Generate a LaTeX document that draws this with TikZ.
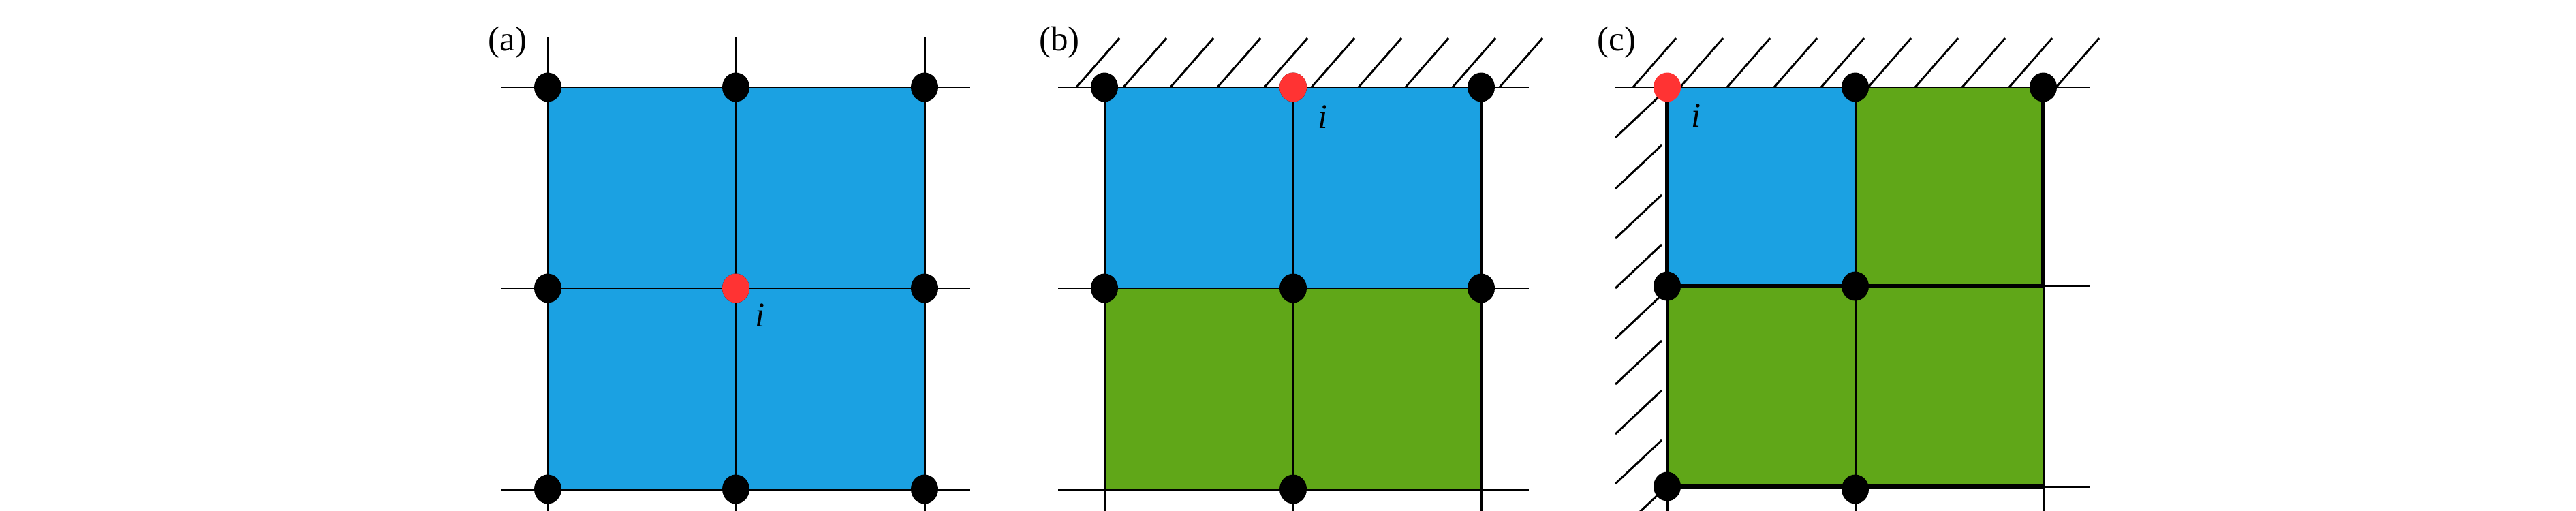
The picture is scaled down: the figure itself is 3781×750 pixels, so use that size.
\documentclass[tikz,border=0pt]{standalone}
\usepackage{fontspec}
\setmainfont{Liberation Serif}
\usetikzlibrary{shapes.geometric}
\begin{document}
\begin{tikzpicture}[x=0.02cm,y=-0.02cm,
  thin line/.style={line width=1.7pt,black},
  thick line/.style={line width=2.9pt,black},
  dot/.style={ellipse,inner sep=0pt,minimum width=0.8cm,minimum height=0.86cm,fill=black},
  rdot/.style={dot,fill=myred},
  lab/.style={font=\fontsize{29}{29}\selectfont,inner sep=0pt},
  ilab/.style={font=\fontsize{29}{29}\selectfont\itshape,inner sep=0pt},
  hatch/.style={line width=1.7pt,black}]
\definecolor{myblue}{HTML}{1BA1E2}
\definecolor{mygreen}{HTML}{60A718}
\definecolor{myred}{HTML}{FF3333}
\path[use as bounding box] (0,0) rectangle (3781,750);
% ---------- (a)
\fill[myblue] (804,128) rectangle (1357,718);
\foreach \x in {804,1080,1357} \draw[thin line] (\x,55) -- (\x,750);
\foreach \y in {128,423,718} \draw[thin line] (735,\y) -- (1424,\y);
\foreach \x/\n in {804/1,1080/2,1357/3}{
  \foreach \y/\m in {128/1,423/2,718/3}{
    \node[dot] (a\n\m) at (\x,\y) {};}}
\node[rdot] (ai) at (1080,423) {};
\node[lab] (alab) at (745,62) {(a)};
\node[ilab] (ail) at (1116,463) {i};
% ---------- (b)
\fill[myblue] (1621,128) rectangle (2174,423);
\fill[mygreen] (1621,423) rectangle (2174,718);
\foreach \x in {1621,1898,2174} \draw[thin line] (\x,128) -- (\x,750);
\foreach \y in {128,423,718} \draw[thin line] (1553,\y) -- (2244,\y);
\foreach \k in {0,...,9} \draw[hatch] (1580+69*\k,128) -- ++(63,-72);
\foreach \x/\n in {1621/1,1898/2,2174/3}{
  \foreach \y/\m in {128/1,423/2}{
    \node[dot] (b\n\m) at (\x,\y) {};}}
\node[dot] (b23) at (1898,718) {};
\node[rdot] (bi) at (1898,128) {};
\node[lab] (blab) at (1555,62) {(b)};
\node[ilab] (bil) at (1942,172) {i};
% ---------- (c)
\fill[myblue] (2447,128) rectangle (2723,420);
\fill[mygreen] (2723,128) rectangle (2999,420);
\fill[mygreen] (2447,420) rectangle (2999,714);
\draw[thin line] (2371,128) -- (3068,128);
\draw[thin line] (2999,420) -- (3068,420);
\draw[thin line] (2999,714) -- (3068,714);
\draw[thin line] (2723,128) -- (2723,750);
\draw[thin line] (2447,420) -- (2447,750);
\draw[thin line] (2999,420) -- (2999,750);
\draw[thick line] (2447,128) -- (2447,420);
\draw[thick line] (2999,128) -- (2999,420);
\draw[thick line] (2447,420) -- (2999,420);
\draw[thick line] (2447,714) -- (2999,714);
\foreach \k in {0,...,9} \draw[hatch] (2397+69*\k,128) -- ++(63,-72);
\foreach \yb in {202,277,350,423,497,564,637,710,785} \draw[hatch] (2371,\yb) -- ++(68,-64);
\node[dot] (c21) at (2723,128) {};
\node[dot] (c31) at (2999,128) {};
\node[dot] (c12) at (2447,420) {};
\node[dot] (c22) at (2723,420) {};
\node[dot] (c13) at (2447,714) {};
\node[dot] (c23) at (2723,718) {};
\node[rdot] (ci) at (2447,128) {};
\node[lab] (clab) at (2373,62) {(c)};
\node[ilab] (cil) at (2490,170) {i};
\end{tikzpicture}
\end{document}
